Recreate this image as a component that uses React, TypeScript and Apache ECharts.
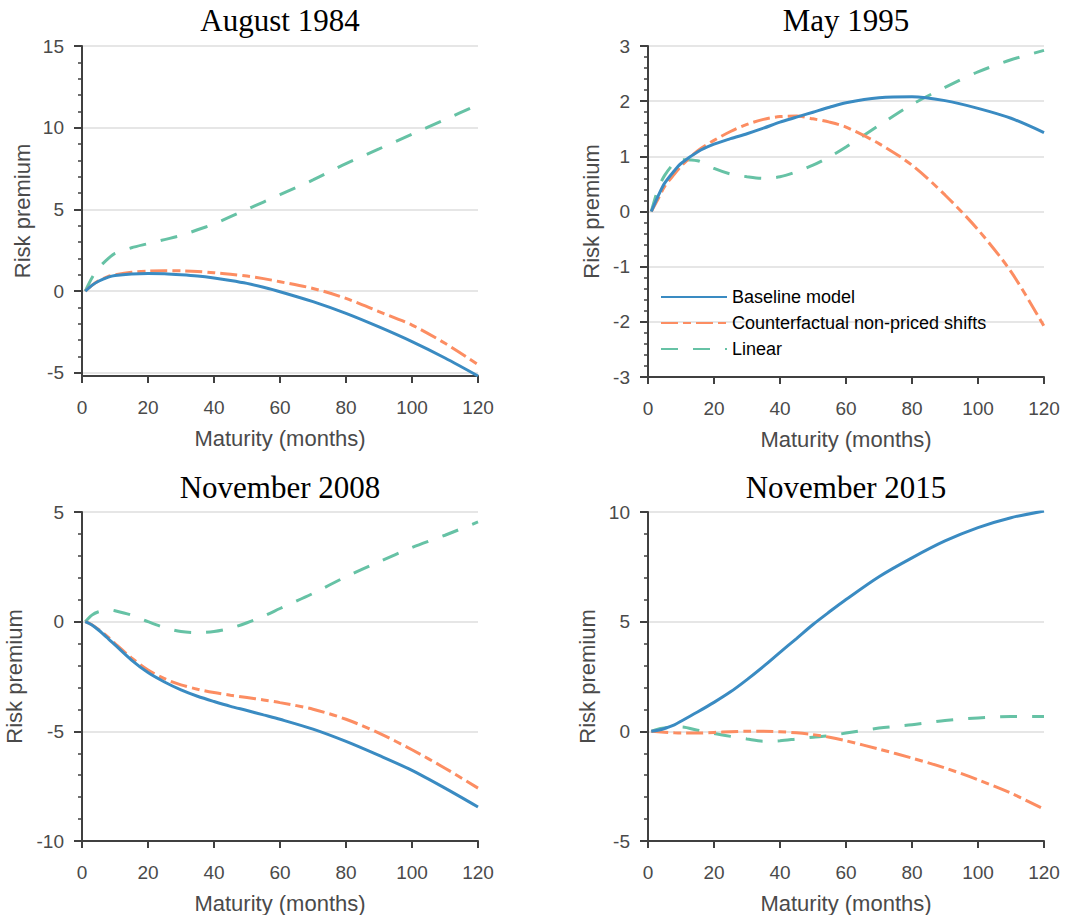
import React, { useEffect, useRef } from "react";
import * as echarts from "echarts";

// Maturities (months) at which the curves are read
const MATURITY = [1, 3, 5, 8, 10, 15, 20, 25, 30, 35, 40, 45, 50, 55, 60, 70, 80, 90, 100, 110, 120];

const SERIES_NAMES = ["Baseline model", "Counterfactual non-priced shifts", "Linear"];
const TITLES = ["August 1984", "May 1995", "November 2008", "November 2015"];

// August 1984
const BASE_1984 = [0, 0.35, 0.6, 0.85, 0.95, 1.05, 1.08, 1.06, 1.0, 0.92, 0.8, 0.65, 0.47, 0.23, -0.04, -0.65, -1.37, -2.2, -3.1, -4.1, -5.2];
const CF_1984 = [0, 0.35, 0.62, 0.9, 1.0, 1.15, 1.22, 1.25, 1.24, 1.2, 1.12, 1.03, 0.92, 0.76, 0.57, 0.16, -0.45, -1.26, -2.08, -3.2, -4.5];
const LIN_1984 = [0, 0.8, 1.4, 2.0, 2.3, 2.65, 2.9, 3.15, 3.4, 3.75, 4.1, 4.55, 5.0, 5.45, 5.9, 6.8, 7.8, 8.7, 9.6, 10.5, 11.4];

// May 1995
const BASE_1995 = [0, 0.27, 0.51, 0.74, 0.87, 1.08, 1.22, 1.32, 1.41, 1.51, 1.62, 1.71, 1.8, 1.89, 1.97, 2.06, 2.08, 2.01, 1.87, 1.69, 1.43];
const CF_1995 = [0, 0.22, 0.45, 0.68, 0.82, 1.1, 1.29, 1.45, 1.58, 1.67, 1.72, 1.73, 1.68, 1.62, 1.53, 1.23, 0.84, 0.3, -0.33, -1.09, -2.08];
const LIN_1995 = [0, 0.4, 0.65, 0.88, 0.94, 0.92, 0.78, 0.68, 0.63, 0.6, 0.63, 0.72, 0.84, 0.99, 1.17, 1.56, 1.94, 2.25, 2.53, 2.75, 2.92];

// November 2008
const BASE_2008 = [0, -0.15, -0.38, -0.78, -1.06, -1.75, -2.32, -2.75, -3.11, -3.4, -3.64, -3.86, -4.05, -4.25, -4.45, -4.9, -5.46, -6.1, -6.78, -7.59, -8.45];
const CF_2008 = [0, -0.14, -0.35, -0.72, -1.0, -1.65, -2.2, -2.6, -2.88, -3.08, -3.23, -3.35, -3.46, -3.57, -3.69, -3.99, -4.45, -5.08, -5.84, -6.68, -7.59];
const LIN_2008 = [0, 0.3, 0.45, 0.55, 0.5, 0.3, 0.0, -0.27, -0.45, -0.5, -0.45, -0.3, -0.05, 0.25, 0.6, 1.29, 2.05, 2.73, 3.38, 3.94, 4.55];

// November 2015
const BASE_2015 = [0, 0.05, 0.13, 0.3, 0.46, 0.88, 1.32, 1.8, 2.36, 2.96, 3.6, 4.23, 4.87, 5.45, 6.01, 7.05, 7.91, 8.68, 9.29, 9.74, 10.05];
const CF_2015 = [0, -0.02, -0.04, -0.07, -0.08, -0.08, -0.05, -0.02, 0.0, 0.0, -0.02, -0.07, -0.15, -0.27, -0.43, -0.81, -1.22, -1.67, -2.21, -2.82, -3.55];
const LIN_2015 = [0, 0.1, 0.15, 0.2, 0.2, 0.05, -0.1, -0.23, -0.35, -0.45, -0.43, -0.35, -0.27, -0.2, -0.08, 0.15, 0.3, 0.49, 0.61, 0.68, 0.68];

// Axis ranges and tick labels
const X_TICKS = [0, 20, 40, 60, 80, 100, 120];
const Y_RANGE = [
  [-5.2, 15],
  [-3, 3],
  [-10, 5],
  [-5, 10],
];
const Y_MAJOR = [
  [-5, 0, 5, 10, 15],
  [-3, -2, -1, 0, 1, 2, 3],
  [-10, -5, 0, 5],
  [-5, 0, 5, 10],
];
const Y_MINOR_STEP = [1, 0.2, 1, 1];

const PANEL_DATA = [
  [BASE_1984, CF_1984, LIN_1984],
  [BASE_1995, CF_1995, LIN_1995],
  [BASE_2008, CF_2008, LIN_2008],
  [BASE_2015, CF_2015, LIN_2015],
];

const COLORS = ["#3a8bc2", "#fc8d62", "#66c2a5"];
const DASHES: any[] = ["solid", [17, 5, 8, 5], [17, 15]];

const GRIDS = [
  { left: 82, top: 46, width: 396, height: 330 },
  { left: 648, top: 46, width: 396, height: 331 },
  { left: 82, top: 512, width: 396, height: 329 },
  { left: 648, top: 512, width: 396, height: 329 },
];
const Y_NAME_GAP = [49, 46, 57, 50];
const TITLE_POS = [
  [280, 20],
  [846, 20],
  [280, 487],
  [846, 487],
];

const AXIS_COLOR = "#404040";
const LABEL_COLOR = "#4a4a4a";
const SANS = "'Liberation Sans', Arial, Helvetica, sans-serif";
const SERIF = "'Liberation Serif', 'Times New Roman', serif";

function minorTicks(min: number, max: number, step: number) {
  const out: number[] = [];
  const start = Math.ceil(min / step - 1e-9);
  const end = Math.floor(max / step + 1e-9);
  for (let k = start; k <= end; k++) out.push(Math.round(k * step * 1000) / 1000);
  return out;
}

export default function App() {
  const ref = useRef<HTMLDivElement>(null);

  useEffect(() => {
    if (!ref.current) return;
    const chart = echarts.init(ref.current, null, { renderer: "svg" });

    const grid = GRIDS.map((g) => ({ ...g, containLabel: false }));

    const xAxis = GRIDS.map((_, i) => ({
      type: "value",
      gridIndex: i,
      min: X_TICKS[0],
      max: X_TICKS[X_TICKS.length - 1],
      interval: X_TICKS[1] - X_TICKS[0],
      name: "Maturity (months)",
      nameLocation: "middle",
      nameGap: 51,
      nameTextStyle: { fontFamily: SANS, fontSize: 22, color: LABEL_COLOR },
      axisLine: { show: true, onZero: false, lineStyle: { color: AXIS_COLOR, width: 2 } },
      axisTick: { show: true, inside: false, length: 7, lineStyle: { color: AXIS_COLOR, width: 2 } },
      axisLabel: { margin: 22, fontFamily: SANS, fontSize: 19, color: LABEL_COLOR },
      splitLine: { show: false },
    }));

    const yAxis: any[] = [];
    GRIDS.forEach((_, i) => {
      const [mn, mx] = Y_RANGE[i];
      yAxis.push({
        type: "value",
        gridIndex: i,
        position: "left",
        min: mn,
        max: mx,
        name: "Risk premium",
        nameLocation: "middle",
        nameRotate: 90,
        nameGap: Y_NAME_GAP[i],
        nameTextStyle: { fontFamily: SANS, fontSize: 22, color: LABEL_COLOR },
        axisLine: { show: true, onZero: false, lineStyle: { color: AXIS_COLOR, width: 2 } },
        axisTick: { show: true, inside: false, length: 8, customValues: Y_MAJOR[i], lineStyle: { color: AXIS_COLOR, width: 2 } },
        axisLabel: { margin: 18, customValues: Y_MAJOR[i], fontFamily: SANS, fontSize: 19, color: LABEL_COLOR },
        splitLine: { show: true, lineStyle: { color: "#e6e6e6", width: 2 } },
      });
      yAxis.push({
        type: "value",
        gridIndex: i,
        position: "left",
        offset: 0,
        min: mn,
        max: mx,
        axisLine: { show: false },
        axisTick: { show: true, inside: false, length: 4, customValues: minorTicks(mn, mx, Y_MINOR_STEP[i]), lineStyle: { color: AXIS_COLOR, width: 1.5 } },
        axisLabel: { show: false },
        splitLine: { show: false },
      });
    });

    const series: any[] = [];
    PANEL_DATA.forEach((panel, i) => {
      panel.forEach((vals, s) => {
        series.push({
          type: "line",
          name: SERIES_NAMES[s],
          xAxisIndex: i,
          yAxisIndex: 2 * i,
          data: MATURITY.map((m, j) => [m, vals[j]]),
          symbol: "none",
          showSymbol: false,
          smooth: 0.3,
          z: 3 - s + 2,
          lineStyle: { color: COLORS[s], width: 3, type: DASHES[s] },
          itemStyle: { color: COLORS[s] },
        });
      });
    });

    const graphic = TITLES.map((t, i) => ({
      type: "text",
      x: TITLE_POS[i][0],
      y: TITLE_POS[i][1],
      style: {
        text: t,
        textAlign: "center",
        textVerticalAlign: "middle",
        fontFamily: SERIF,
        fontSize: 31,
        fill: "#000",
      },
    }));

    chart.setOption({
      animation: false,
      backgroundColor: "#ffffff",
      grid,
      xAxis,
      yAxis,
      series,
      graphic,
      legend: {
        data: SERIES_NAMES,
        orient: "vertical",
        left: 660,
        top: 288,
        padding: 0,
        itemWidth: 66,
        itemHeight: 14,
        itemGap: 8,
        itemStyle: { opacity: 0 },
        textStyle: { fontFamily: SANS, fontSize: 18, color: "#000" },
        selectedMode: false,
      },
    });

    return () => chart.dispose();
  }, []);

  return (
    <div
      ref={ref}
      style={{ position: "absolute", left: 0, top: 0, width: 1065, height: 915, background: "#fff" }}
    />
  );
}
